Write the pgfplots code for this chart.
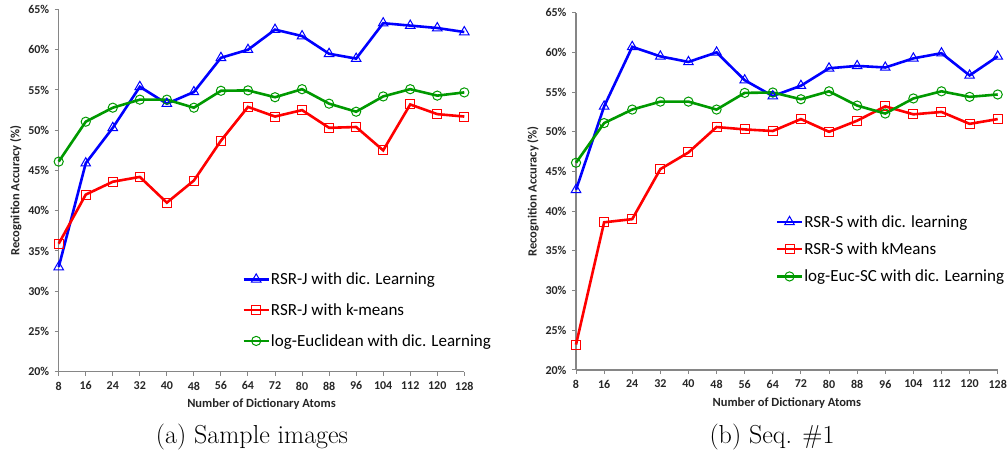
\documentclass[border=0pt]{standalone}
\usepackage{fontspec}
\newfontfamily\carl{Carlito}[BoldFont={Carlito Bold}]
\newfontfamily\carlb{Carlito Bold}
\usepackage{pgfplots}
\pgfplotsset{compat=1.18}
\definecolor{cblue}{RGB}{0,0,255}
\definecolor{cred}{RGB}{255,0,0}
\definecolor{cgreen}{RGB}{0,153,0}
\definecolor{axgray}{RGB}{134,134,134}
\pgfplotsset{
 mystyle/.style={
  scale only axis,
  axis x line=bottom, axis y line=left,
  axis line style={-, draw=axgray, line width=1.3pt},
  xmin=8,xmax=128,ymin=20,ymax=65,
  xtick={8,16,24,32,40,48,56,64,72,80,88,96,104,112,120,128},
  xticklabels={8,16,24,32,40,48,56,64,72,80,88,96,104,112,120,128},
  ytick={20,25,30,35,40,45,50,55,60,65},
  yticklabels={20\%,25\%,30\%,35\%,40\%,45\%,50\%,55\%,60\%,65\%},
  tick align=outside, major tick length=4pt,
  tick style={draw=axgray, line width=1pt},
  ticklabel style={font=\fontsize{12}{14}\selectfont\carlb, text=black!85},
  xticklabel style={yshift=-2.5pt},
  yticklabel style={xshift=-2pt},
  xlabel={Number of Dictionary Atoms},
  ylabel={Recognition Accuracy (\%)},
  label style={font=\fontsize{12.5}{14}\selectfont\carlb, text=black!85},
  xlabel style={yshift=-2pt},
  legend cell align=left,
  legend image code/.code={\draw[mark repeat=2,mark phase=2] plot coordinates {(0pt,0pt)(12.5pt,0pt)(25pt,0pt)};},
  clip=false,
 },
 sb/.style={cblue, line width=2.6pt, mark=triangle, mark size=5.5pt, mark options={solid, fill=white, line width=1pt}},
 sr/.style={cred, line width=2.6pt, mark=square, mark size=4.5pt, mark options={solid, fill=white, line width=1pt}},
 sg/.style={cgreen, line width=2.6pt, mark=o, mark size=4.6pt, mark options={solid, fill=white, line width=1pt}},
}
\begin{document}
\begin{tikzpicture}
\useasboundingbox (0,0) rectangle (1008pt,457pt);
\begin{axis}[mystyle, at={(58.7pt,85.3pt)}, anchor=south west, width=405.6pt, height=362.2pt,
  legend style={draw=none, fill=none, font=\fontsize{17}{19}\selectfont\carl, at={(0.445,0.285)}, anchor=north west, row sep=13.5pt, nodes={inner xsep=1pt}}]
\addplot[sb] coordinates {(8,33.0)(16,45.9)(24,50.3)(32,55.4)(40,53.3)(48,54.75)(56,59.0)(64,60.0)(72,62.5)(80,61.7)(88,59.5)(96,58.9)(104,63.3)(112,63.0)(120,62.7)(128,62.2)};
\addlegendentry{RSR-J with dic. Learning}
\addplot[sr] coordinates {(8,35.9)(16,42.0)(24,43.6)(32,44.2)(40,41.0)(48,43.75)(56,48.7)(64,52.9)(72,51.7)(80,52.5)(88,50.3)(96,50.4)(104,47.5)(112,53.2)(120,52.0)(128,51.7)};
\addlegendentry{RSR-J with k-means}
\addplot[sg] coordinates {(8,46.1)(16,51.06)(24,52.8)(32,53.8)(40,53.8)(48,52.8)(56,54.9)(64,54.95)(72,54.1)(80,55.1)(88,53.3)(96,52.3)(104,54.2)(112,55.1)(120,54.3)(128,54.7)};
\addlegendentry{log-Euclidean with dic. Learning}
\end{axis}
\begin{axis}[mystyle, at={(576pt,87pt)}, anchor=south west, width=421.7pt, height=357.3pt,
  legend style={draw=none, fill=none, font=\fontsize{17}{19}\selectfont\carl, at={(0.466,0.445)}, anchor=north west, row sep=10pt, nodes={inner xsep=1pt}}]
\addplot[sb] coordinates {(8,42.7)(16,53.2)(24,60.7)(32,59.5)(40,58.8)(48,60.0)(56,56.5)(64,54.5)(72,55.8)(80,58.0)(88,58.3)(96,58.1)(104,59.25)(112,59.9)(120,57.1)(128,59.5)};
\addlegendentry{RSR-S with dic. learning}
\addplot[sr] coordinates {(8,23.2)(16,38.6)(24,39.0)(32,45.3)(40,47.4)(48,50.6)(56,50.3)(64,50.1)(72,51.6)(80,50.0)(88,51.4)(96,53.2)(104,52.2)(112,52.5)(120,51.0)(128,51.6)};
\addlegendentry{RSR-S with kMeans}
\addplot[sg] coordinates {(8,46.1)(16,51.1)(24,52.8)(32,53.8)(40,53.8)(48,52.8)(56,54.9)(64,54.95)(72,54.1)(80,55.1)(88,53.3)(96,52.3)(104,54.2)(112,55.1)(120,54.4)(128,54.7)};
\addlegendentry{log-Euc-SC with dic. Learning}
\end{axis}
\node[font=\fontsize{26}{29}\selectfont] at (252pt,20pt) {(a) Sample images};
\node[font=\fontsize{26}{29}\selectfont] at (772pt,20pt) {(b) Seq. \#1};
\end{tikzpicture}
\end{document}
